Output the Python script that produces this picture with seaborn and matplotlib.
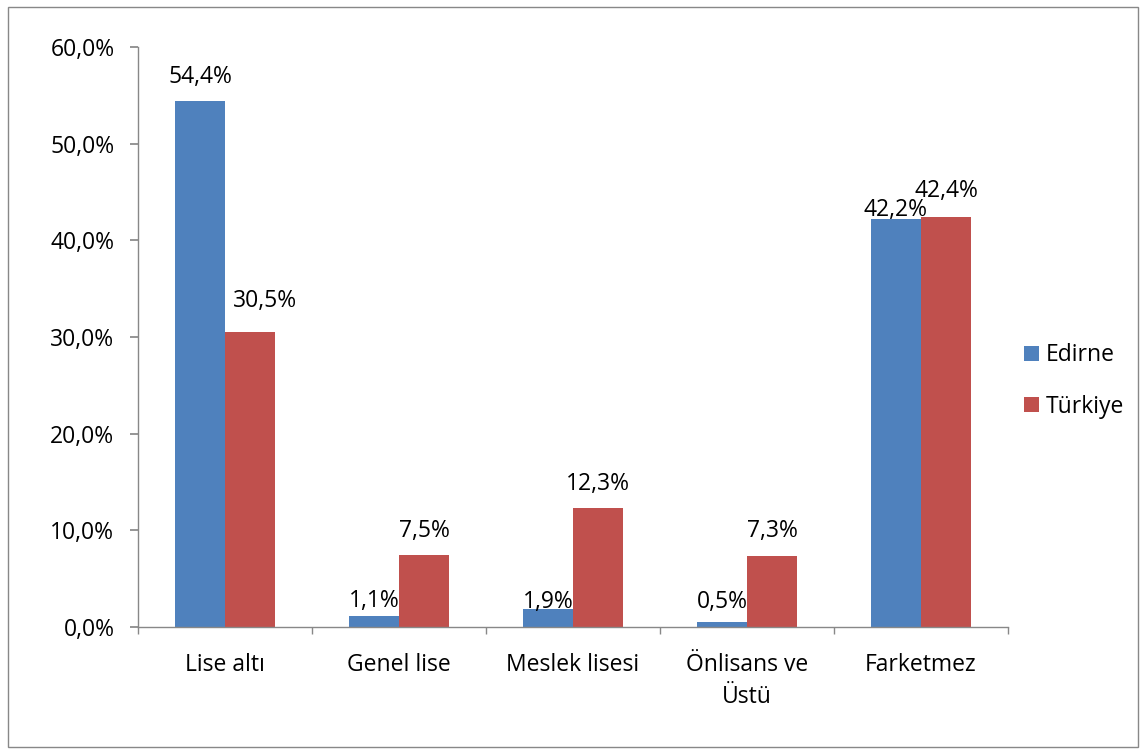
import matplotlib
matplotlib.use("Agg")
import matplotlib.pyplot as plt
import seaborn as sns
import pandas as pd
from matplotlib.patches import Rectangle

categories = ["Lise altı", "Genel lise", "Meslek lisesi", "Önlisans ve\nÜstü", "Farketmez"]
edirne = [54.4, 1.1, 1.9, 0.5, 42.2]
turkiye = [30.5, 7.5, 12.3, 7.3, 42.4]
series = ["Edirne", "Türkiye"]
colors = ["#4F81BD", "#C0504D"]
yticks = [0, 10, 20, 30, 40, 50, 60]

# label placement (style): baseline gap above bar top and horizontal shift, in pixels
label_gap = [[18, 9, 1, 14, 3], [25, 18, 18, 19, 20]]
label_dx = [[0, 0, 0, 0, 0], [15, 0, 0, 0, 0]]

sns.set_theme(style="white")
plt.rcParams['font.family'] = ['Open Sans', 'DejaVu Sans']
FS = 16.5

df = pd.DataFrame({
    "cat": categories * 2,
    "val": edirne + turkiye,
    "series": [series[0]] * 5 + [series[1]] * 5,
})

fig = plt.figure(figsize=(11.41, 7.54), dpi=100)
fig.patches.append(Rectangle((8/1141, 7/754), 1130/1141, 740/754, transform=fig.transFigure,
                             fill=False, edgecolor="#888888", linewidth=1.0))
ax = fig.add_axes([138/1141, 1-627/754, 870/1141, 580/754])
sns.barplot(data=df, x="cat", y="val", hue="series", palette=colors, width=0.575,
            saturation=1, ax=ax, legend=True, linewidth=0)

for si, c in enumerate(ax.containers):
    for bi, (p, v) in enumerate(zip(c.patches, c.datavalues)):
        ax.annotate(f"{v:.1f}%".replace(".", ","),
                    xy=(p.get_x() + p.get_width() / 2, p.get_height()),
                    xytext=(label_dx[si][bi], label_gap[si][bi]), textcoords="offset pixels",
                    ha="center", va="baseline", fontsize=FS, color="#000000")

ax.set_ylim(0, 60)
ax.set_xlim(-0.5, 4.5)
ax.set_yticks(yticks)
ax.set_yticklabels([f"{t:.1f}%".replace(".", ",") for t in yticks], fontsize=FS, color="#000000")
ax.set_xticks(range(5))
ax.set_xticklabels(categories, fontsize=FS, color="#000000", linespacing=1.4)
ax.set_xlabel("")
ax.set_ylabel("")
for s in ["top", "right"]:
    ax.spines[s].set_visible(False)
for s in ["left", "bottom"]:
    ax.spines[s].set_color("#888888")
    ax.spines[s].set_linewidth(1.0)
ax.tick_params(axis="y", which="major", direction="out", length=6, color="#888888", left=True, pad=11)
ax.tick_params(axis="x", which="major", length=0, pad=19)
ax.set_xticks([-0.5 + i for i in range(6)], minor=True)
ax.tick_params(axis="x", which="minor", direction="out", length=5, color="#888888", bottom=True)

leg = ax.legend(handles=ax.get_legend_handles_labels()[0], labels=series,
                loc="center left", bbox_to_anchor=(0.995, 0.424), frameon=False,
                fontsize=FS, handlelength=0.65, handleheight=0.65, labelspacing=1.19,
                handletextpad=0.3)
for t in leg.get_texts():
    t.set_color("#000000")

fig.savefig("out.png", dpi=100)
